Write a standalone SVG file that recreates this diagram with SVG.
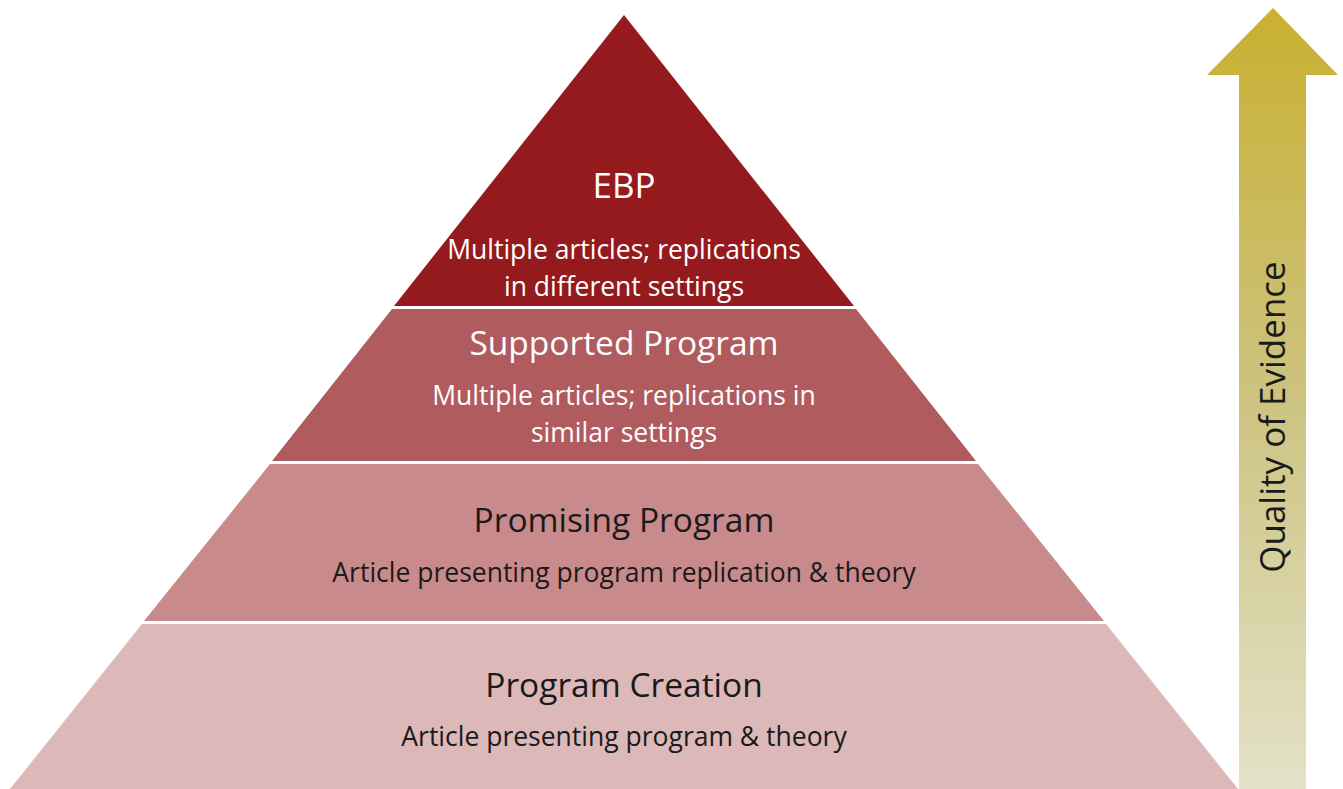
<svg xmlns="http://www.w3.org/2000/svg" width="1343" height="789" viewBox="0 0 1343 789">
<style>
.t{font-family:"Open Sans","Liberation Sans",sans-serif;text-anchor:middle}
.h{font-size:33.5px}
.s{font-size:26.5px}
.w{fill:#ffffff}
.k{fill:#1a1a1a}
</style>
<defs>
<linearGradient id="ag" x1="0" y1="0" x2="0" y2="1">
<stop offset="0" stop-color="#c9b031"/>
<stop offset="0.5" stop-color="#cdc380"/>
<stop offset="1" stop-color="#e3e2c8"/>
</linearGradient>
</defs>
<rect width="1343" height="789" fill="#ffffff"/>
<g id="level-ebp">
<polygon points="624,15 854,306 394,306" fill="#951a1e"/>
<text class="t w" font-size="35" x="624" y="198">EBP</text>
<text class="t s w" x="624" y="259">Multiple articles; replications</text>
<text class="t s w" x="624" y="296">in different settings</text>
</g>
<g id="level-supported">
<polygon points="392,309 856,309 976,461 272,461" fill="#b05b5e"/>
<text class="t h w" x="624" y="355">Supported Program</text>
<text class="t s w" x="624" y="405">Multiple articles; replications in</text>
<text class="t s w" x="624" y="442">similar settings</text>
</g>
<g id="level-promising">
<polygon points="270,464 978,464 1104,621 144,621" fill="#c98a8c"/>
<text class="t h k" x="624" y="532">Promising Program</text>
<text class="t s k" x="624" y="582">Article presenting program replication &amp; theory</text>
</g>
<g id="level-creation">
<polygon points="142,624 1106,624 1238,789 10,789" fill="#dcb8b9"/>
<text class="t h k" x="624" y="697">Program Creation</text>
<text class="t s k" x="624" y="746">Article presenting program &amp; theory</text>
</g>
<g id="arrow-quality">
<polygon points="1273,8 1338,75 1306,75 1306,789 1239,789 1239,75 1207,75" fill="url(#ag)"/>
<text class="t k" font-size="35" transform="translate(1285,417) rotate(-90)">Quality of Evidence</text>
</g>
</svg>
